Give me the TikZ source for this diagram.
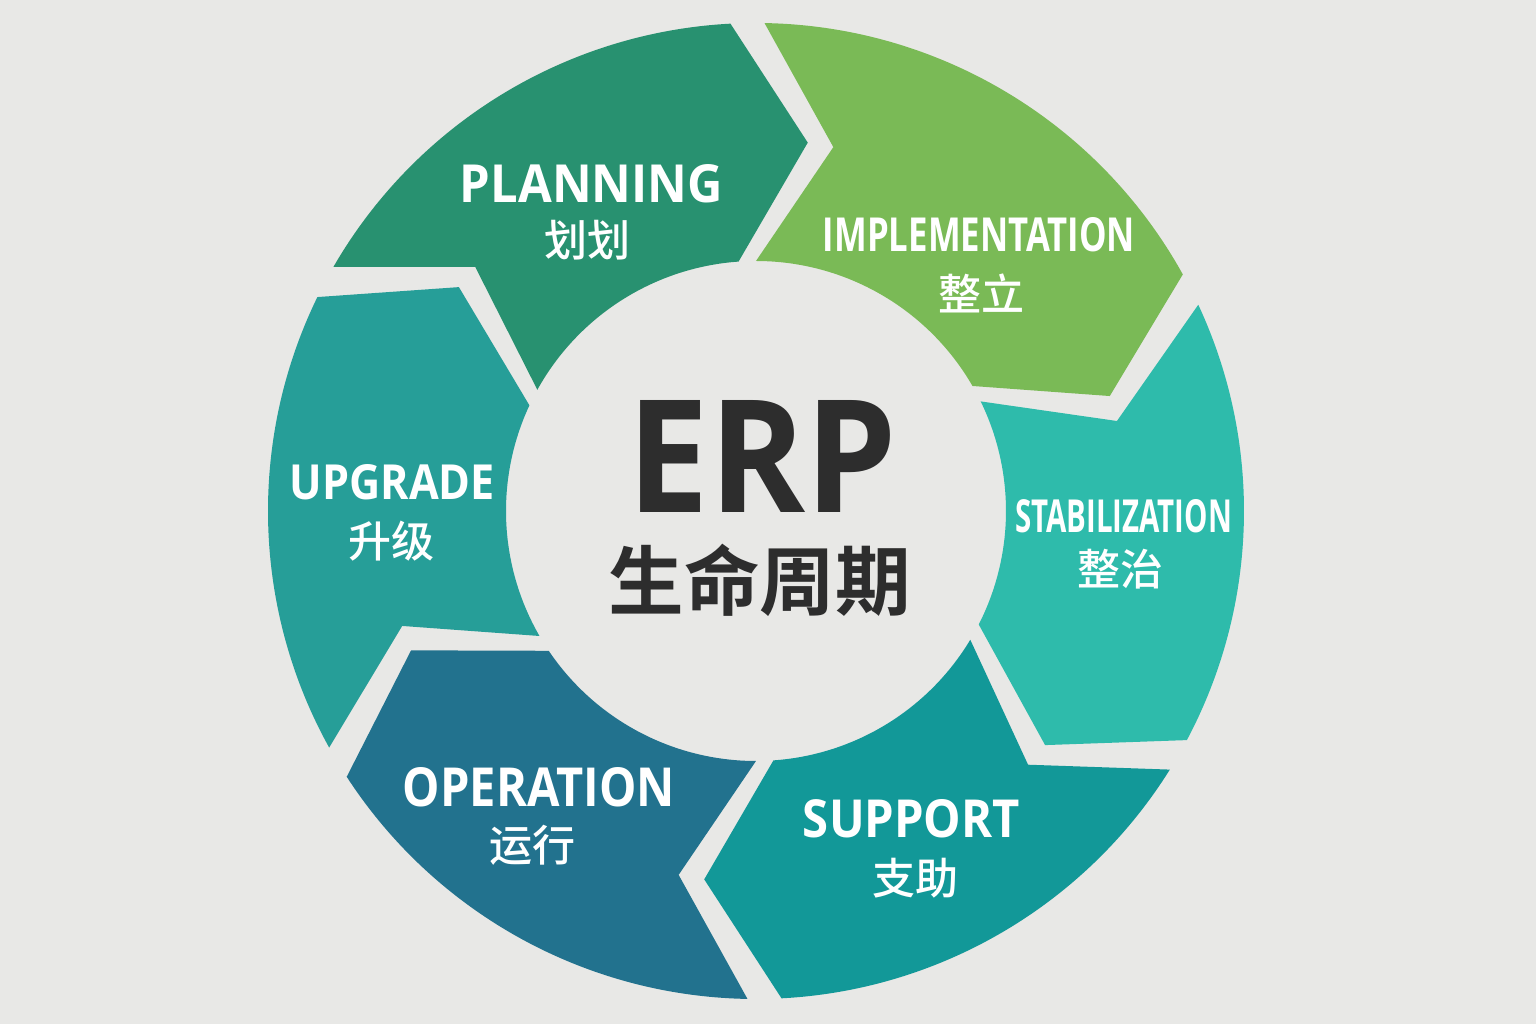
\documentclass[tikz,border=0pt]{standalone}
\usepackage{fontspec}
\setmainfont{Open Sans}
\newfontfamily\cjk{Noto Sans CJK SC}[BoldFont={Noto Sans CJK SC Medium}]
\newfontfamily\cjkheavy{Noto Sans CJK SC Bold}
\definecolor{bggrey}{RGB}{232,232,230}
\definecolor{ergrey}{RGB}{45,45,45}
\definecolor{planc}{RGB}{40,145,112}
\definecolor{implc}{RGB}{122,186,86}
\definecolor{stabc}{RGB}{46,187,171}
\definecolor{suppc}{RGB}{18,152,152}
\definecolor{operc}{RGB}{34,114,142}
\definecolor{upgrc}{RGB}{38,158,152}
\newlength\pxu
\setlength\pxu{0.02cm}
% caps label squeezed to a given width and cap height (in px)
\newcommand{\fitcaps}[3]{\resizebox{#1\pxu}{#2\pxu}{\bfseries #3}}
% one chevron piece of the ring: #1 start angle, #2 end angle, #3 colour
\newcommand{\ringseg}[3]{%
  \fill[#3] (#1-2:488) arc[start angle=#1-2,end angle=#2+2,radius=488]
    -- (#2-9:372) -- (#2+3:250)
    arc[start angle=#2+3,end angle=#1-1,radius=250]
    -- (#1-13:372) -- cycle;}

\begin{document}
\begin{tikzpicture}[x=0.02cm,y=0.02cm,line join=miter,
  stagelbl/.style={text=white,inner sep=0pt},
  stagecjk/.style={text=white,inner sep=0pt,font=\cjk\bfseries\fontsize{24.5}{26}\selectfont}]
\useasboundingbox (-756,-513) rectangle (780,511);
\fill[bggrey] (-756,-513) rectangle (780,511);
% ring
\ringseg{152}{91}{planc}
\ringseg{91}{27}{implc}
\ringseg{27}{-30}{stabc}
\ringseg{-30}{-89}{suppc}
\ringseg{-89}{-149}{operc}
\ringseg{-149}{-208}{upgrc}
% stage labels
\node[stagelbl] (plan) at (-164.5,327) {\fitcaps{263}{38}{PLANNING}};
\node[stagecjk] (plancn) at (-168.5,271) {划划};
\node[stagelbl] (impl) at (223,276) {\fitcaps{312}{34}{IMPLEMENTATION}};
\node[stagecjk] (implcn) at (225.5,217.5) {整立};
\node[stagelbl] (stab) at (367.5,-5.5) {\fitcaps{217}{33}{STABILIZATION}};
\node[stagecjk] (stabcn) at (364.5,-58) {整治};
\node[stagelbl] (supp) at (155.5,-308) {\fitcaps{217}{38}{SUPPORT}};
\node[stagecjk] (suppcn) at (160,-367) {支助};
\node[stagelbl] (oper) at (-217,-276.5) {\fitcaps{272}{39}{OPERATION}};
\node[stagecjk] (opercn) at (-223.5,-334) {运行};
\node[stagelbl] (upgr) at (-363.5,28.5) {\fitcaps{205}{35}{UPGRADE}};
\node[stagecjk] (upgrcn) at (-364.5,-30.5) {升级};
% centre
\node[inner sep=0pt,text=ergrey] (erp) at (6.5,55) {\fitcaps{269}{112}{ERP}};
\node[inner sep=0pt,text=ergrey,font=\cjkheavy\fontsize{43}{45}\selectfont] (life) at (4,-69) {生命周期};
\end{tikzpicture}
\end{document}
